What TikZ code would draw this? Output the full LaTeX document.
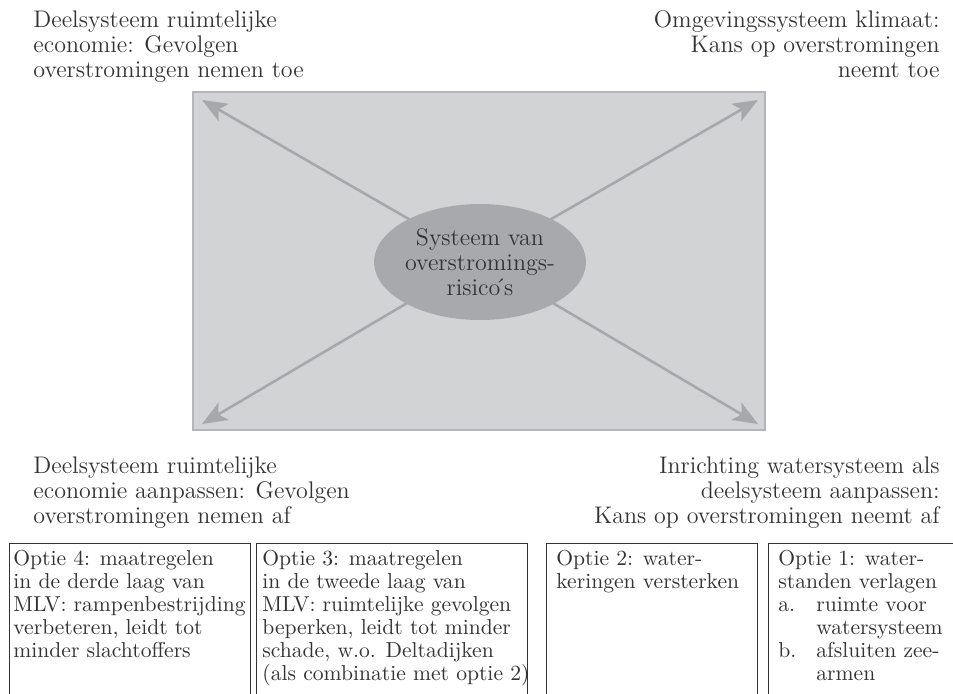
\documentclass[tikz,border=0pt]{standalone}
\usepackage{tikz}
\usetikzlibrary{arrows.meta,positioning,shapes.geometric}
\definecolor{panelgray}{HTML}{D1D3D4}
\definecolor{paneledge}{HTML}{B3B5B8}
\definecolor{arrowgray}{HTML}{A6A8AB}
\definecolor{coregray}{HTML}{A7A9AC}
\definecolor{inkgray}{HTML}{333333}
\tikzset{>={Stealth[length=12.5pt,width=10pt,inset=3pt]},
         every node/.style={text=inkgray},
         caption/.style={inner sep=0pt,font=\fontsize{12}{12.6}\selectfont},
         optbox/.style={draw=black!80,line width=0.7pt,anchor=north west,inner sep=0pt},
         opttext/.style={inner sep=0pt,anchor=north west,align=left,
           font=\fontsize{10.8}{11.5}\selectfont},
         flow/.style={->,draw=arrowgray,line width=1.3pt}}

\begin{document}
\begin{tikzpicture}[x=0.5pt,y=-0.5pt]
  \useasboundingbox (0,0) rectangle (953,693);
  % central panel
  \node[draw=paneledge,fill=panelgray,line width=0.6pt,
        minimum width=286pt,minimum height=169pt] (panel) at (479,261) {};
  \coordinate (mid) at (480,260);
  \coordinate (tl) at (202,100);
  \coordinate (tr) at (758,100);
  \coordinate (bl) at (202,424);
  \coordinate (br) at (758,424);
  \draw[flow] (mid) -- (tl);
  \draw[flow] (mid) -- (tr);
  \draw[flow] (mid) -- (bl);
  \draw[flow] (mid) -- (br);
  \node[ellipse,fill=coregray,minimum width=99pt,minimum height=58pt,
        inner sep=0pt,align=center,font=\fontsize{12}{12.6}\selectfont]
        (sys) at ([yshift=-1pt]mid) {Systeem van\\overstromings-\\risico\kern-3pt´\kern-1pt s};
  % captions
  \node[caption,anchor=north west,align=left] (econup) at (33,10)
    {Deelsysteem ruimtelijke\\economie: Gevolgen\\overstromingen nemen toe};
  \node[caption,anchor=north east,align=right] (klimaat) at (940,10)
    {Omgevingssysteem klimaat:\\Kans op overstromingen\\neemt toe};
  \node[caption,anchor=north west,align=left] (econdown) at (33,456)
    {Deelsysteem ruimtelijke\\economie aanpassen: Gevolgen\\overstromingen nemen af};
  \node[caption,anchor=north east,align=right] (water) at (940,456)
    {Inrichting watersysteem als\\deelsysteem aanpassen:\\Kans op overstromingen neemt af};
  % option boxes
  \node[optbox,minimum width=120.5pt,minimum height=85pt] (opt4) at (9,543) {};
  \node[optbox,minimum width=135.5pt,minimum height=85pt] (opt3) at (256,543) {};
  \node[optbox,minimum width=105.5pt,minimum height=85pt] (opt2) at (546,543) {};
  \node[optbox,minimum width=101pt,minimum height=85pt] (opt1) at (768,543) {};
  \node[opttext] at ([shift={(2pt,-3.5pt)}]opt4.north west)
    {Optie 4: maatregelen\\in de derde laag van\\MLV: rampenbestrijding\\verbeteren, leidt tot\\minder slachtoffers};
  \node[opttext] at ([shift={(3pt,-3.5pt)}]opt3.north west)
    {Optie 3: maatregelen\\in de tweede laag van\\MLV: ruimtelijke gevolgen\\beperken, leidt tot minder\\schade, w.o. Deltadijken\\(als combinatie met optie 2)};
  \node[opttext] at ([shift={(5pt,-3.5pt)}]opt2.north west)
    {Optie 2: water-\\keringen versterken};
  \node[opttext] at ([shift={(5pt,-3.5pt)}]opt1.north west)
    {Optie 1: water-\\standen verlagen\\
     \begin{tabular}{@{}p{14pt}@{\hspace{5pt}}l@{}}
       a. & ruimte voor\\ & watersysteem\\ b. & afsluiten zee-\\ & armen
     \end{tabular}};
\end{tikzpicture}
\end{document}
